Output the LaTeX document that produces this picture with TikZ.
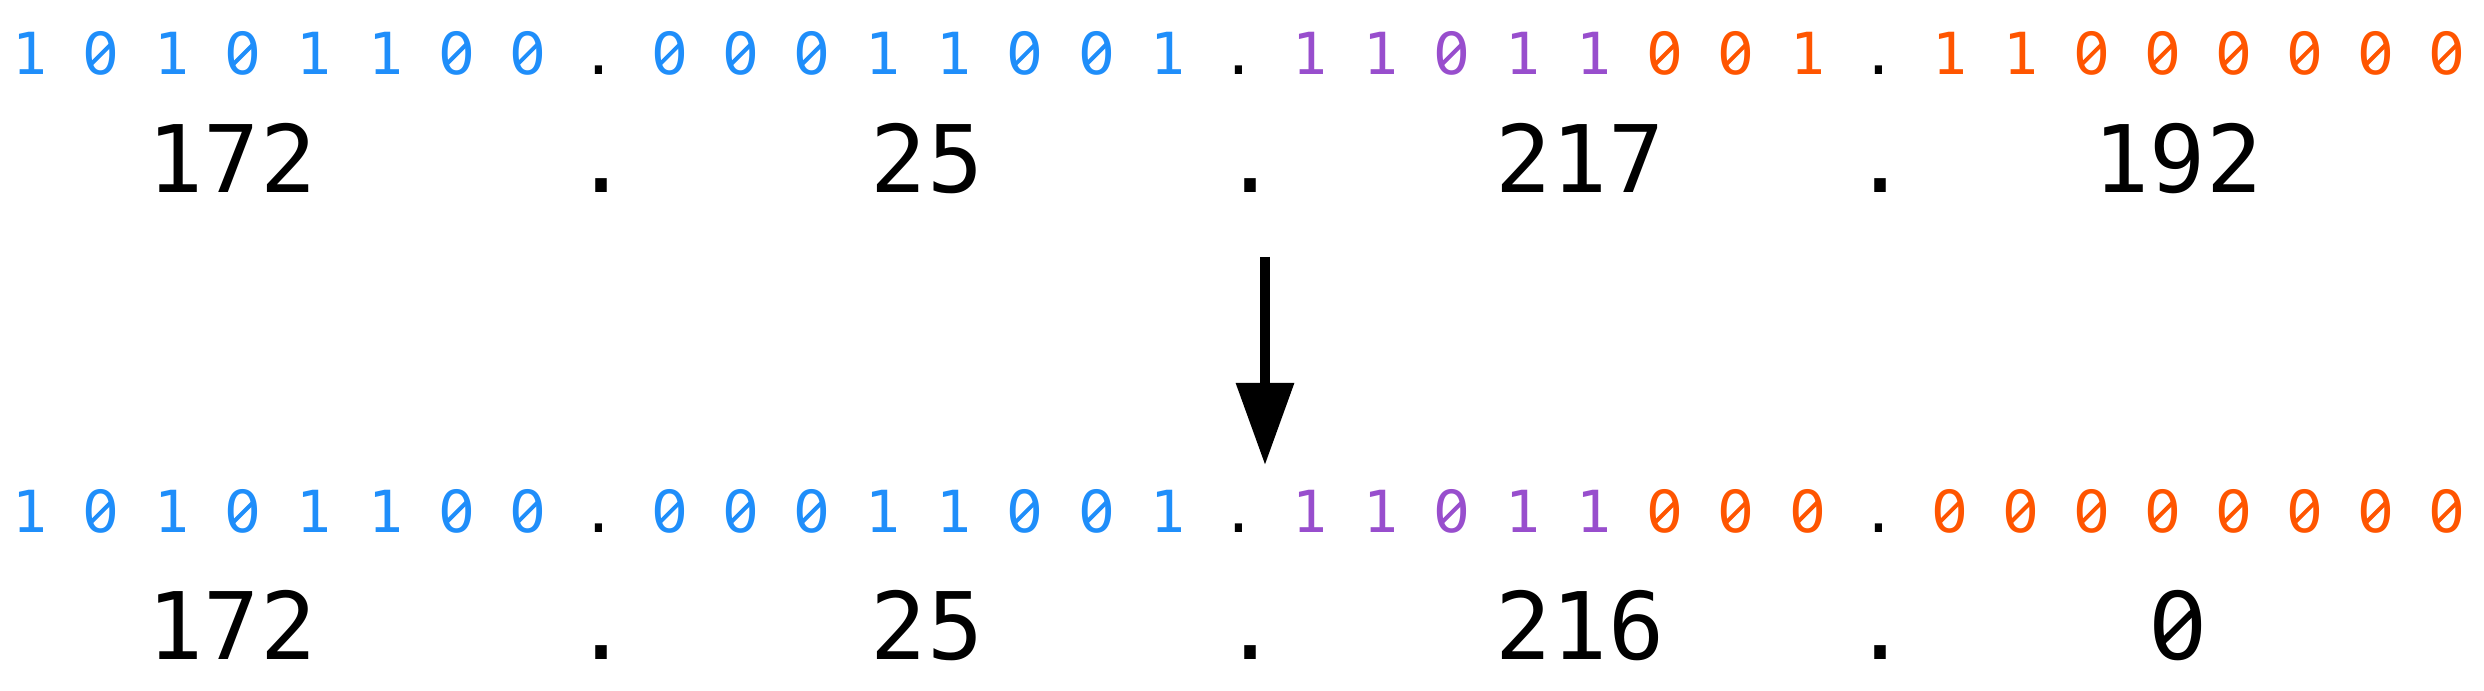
\documentclass[tikz,border=0pt]{standalone}
\usepackage{fontspec}
\setmonofont{DejaVu Sans Mono}
\newfontfamily\zerofont{DejaVu Sans}
\usetikzlibrary{arrows.meta}
\definecolor{bblue}{RGB}{31,142,250}
\definecolor{bpurple}{RGB}{152,78,205}
\definecolor{borange}{RGB}{255,85,0}
\tikzset{
  bin/.style={anchor=base,inner sep=0pt,outer sep=0pt,font=\ttfamily\fontsize{14.5pt}{16pt}\selectfont},
  dec/.style={anchor=base,inner sep=0pt,outer sep=0pt,font=\ttfamily\fontsize{23.3pt}{26pt}\selectfont},
  binslash/.style={line width=1.0pt},
  decslash/.style={line width=1.6pt},
  bigarrow/.style={line width=2.4pt,-{Triangle[length=20.5pt,width=14pt]}}
}
\begin{document}
\begin{tikzpicture}[x=0.25pt,y=-0.25pt]
\useasboundingbox (0,0) rectangle (2484,691);
% top binary row
\foreach \s/\c [count=\i from 0] in {1/bblue,0/bblue,1/bblue,0/bblue,1/bblue,1/bblue,0/bblue,0/bblue,./black,0/bblue,0/bblue,0/bblue,1/bblue,1/bblue,0/bblue,0/bblue,1/bblue,./black,1/bpurple,1/bpurple,0/bpurple,1/bpurple,1/bpurple,0/borange,0/borange,1/borange,./black,1/borange,1/borange,0/borange,0/borange,0/borange,0/borange,0/borange,0/borange}
  {\node[bin,text=\c] (t\i) at ({30+71.1*\i},75) {\if\s0\zerofont0\else\s\fi};
   \if\s0\draw[binslash,color=\c] ([shift={(-2.6pt,2.6pt)}]t\i.base) -- ([shift={(2.6pt,7.8pt)}]t\i.base);\fi}
% top decimal row
\node[dec] (td1) at (232,193) {172};
\node[dec] (tp1) at (602,193) {.};
\node[dec] (td2) at (927,193) {25};
\node[dec] (tp2) at (1251,193) {.};
\node[dec] (td3) at (1580,193) {217};
\node[dec] (tp3) at (1881,193) {.};
\node[dec] (td4) at (2178,193) {192};
% arrow
\coordinate (a1) at (1265,257);
\coordinate (a2) at (1265,465);
\draw[bigarrow] (a1) -- (a2);
% bottom binary row
\foreach \s/\c [count=\i from 0] in {1/bblue,0/bblue,1/bblue,0/bblue,1/bblue,1/bblue,0/bblue,0/bblue,./black,0/bblue,0/bblue,0/bblue,1/bblue,1/bblue,0/bblue,0/bblue,1/bblue,./black,1/bpurple,1/bpurple,0/bpurple,1/bpurple,1/bpurple,0/borange,0/borange,0/borange,./black,0/borange,0/borange,0/borange,0/borange,0/borange,0/borange,0/borange,0/borange}
  {\node[bin,text=\c] (b\i) at ({30+71.1*\i},533) {\if\s0\zerofont0\else\s\fi};
   \if\s0\draw[binslash,color=\c] ([shift={(-2.6pt,2.6pt)}]b\i.base) -- ([shift={(2.6pt,7.8pt)}]b\i.base);\fi}
% bottom decimal row
\node[dec] (bd1) at (232,660) {172};
\node[dec] (bp1) at (602,660) {.};
\node[dec] (bd2) at (927,660) {25};
\node[dec] (bp2) at (1251,660) {.};
\node[dec] (bd3) at (1580,660) {216};
\node[dec] (bp3) at (1881,660) {.};
\node[dec] (bd4) at (2178,660) {\zerofont 0};
\draw[decslash] ([shift={(-4.2pt,4.2pt)}]bd4.base) -- ([shift={(4.2pt,12.5pt)}]bd4.base);
\end{tikzpicture}
\end{document}
